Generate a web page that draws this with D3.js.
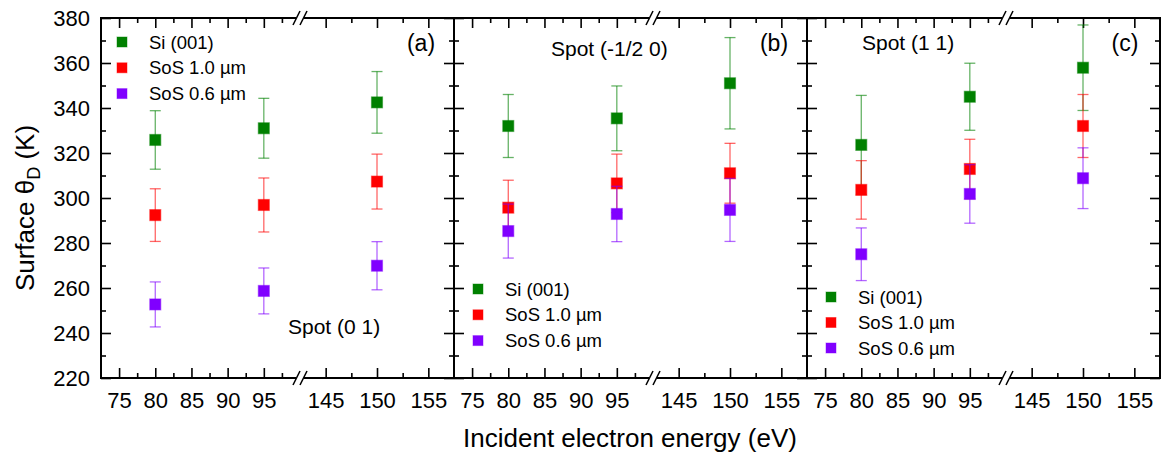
<!doctype html>
<html>
<head>
  <meta charset="utf-8">
  <title>Surface Debye temperature vs incident energy</title>
  <script src="https://d3js.org/d3.v7.min.js"></script>
  <style>
  body { margin: 0; background: #fff; }
  svg { display: block; font-family: "Liberation Sans", Arial, sans-serif; }
  .axis path, .axis line { stroke: #000; }
  .axis text { font-size: 22px; fill: #000; }
  </style>
</head>
<body>
<div id="vis"></div>
<script>
  var width = 1161;
  var height = 454;

  // data
  var energies = [80, 95, 150];
  var seriesNames = ['Si (001)', 'SoS 1.0 \u00b5m', 'SoS 0.6 \u00b5m'];
  var seriesColors = ['#008000', '#ff0000', '#8000ff'];
  var yTicks = [220, 240, 260, 280, 300, 320, 340, 360, 380];
  var yMinor = [230, 250, 270, 290, 310, 330, 350, 370];
  var xTicksLow = [75, 80, 85, 90, 95];
  var xTicksHigh = [145, 150, 155];
  var xMinorLow = [77.5, 82.5, 87.5, 92.5, 97.5];
  var xMinorHigh = [147.5, 152.5];

  // rows: Si, SoS 1.0, SoS 0.6 ; columns: 80, 95, 150 eV
  var valuesA = [[325.8, 331.0, 342.5], [292.4, 296.9, 307.3], [252.7, 258.7, 269.9]];
  var errorsA = [[13.0, 13.3, 13.7], [11.7, 12.0, 12.2], [10.0, 10.2, 10.7]];
  var valuesB = [[332.0, 335.4, 351.0], [295.7, 306.5, 311.0], [285.3, 292.9, 294.7]];
  var errorsB = [[14.0, 14.4, 20.3], [12.2, 13.0, 13.3], [12.0, 12.3, 14.0]];
  var valuesC = [[323.6, 345.0, 357.9], [303.6, 312.9, 332.0], [275.0, 301.8, 308.8]];
  var errorsC = [[22.0, 14.9, 19.0], [13.0, 13.2, 14.0], [11.7, 13.0, 13.5]];

  var panels = [
    { left: 101, values: valuesA, errors: errorsA, tag: '(a)', tagX: 421, tagY: 43,
      spot: 'Spot (0 1)', spotX: 288, spotY: 327, legX: 122, legY: 42, legStep: 25.8 },
    { left: 454, values: valuesB, errors: errorsB, tag: '(b)', tagX: 774, tagY: 43,
      spot: 'Spot (-1/2 0)', spotX: 551, spotY: 49, legX: 478, legY: 289, legStep: 25.8 },
    { left: 807, values: valuesC, errors: errorsC, tag: '(c)', tagX: 1125, tagY: 43,
      spot: 'Spot (1 1)', spotX: 862, spotY: 43, legX: 831, legY: 297, legStep: 25.5 }
  ];

  var panelW = 353;
  var breakW = 199;
  var plotTop = 18, plotBottom = 378;
  var ms = 11; // marker size

  var svg = d3.select('#vis').append('svg')
    .attr('width', width)
    .attr('height', height);

  var y = d3.scaleLinear().domain([220, 380]).range([plotBottom, plotTop]);

  panels.forEach(function(p, pi){
    var L = p.left, R = p.left + panelW, B = p.left + breakW;
    var xLow = d3.scaleLinear().domain([72.5, 100]).range([L, B]);
    var xHigh = d3.scaleLinear().domain([142.5, 157.5]).range([B, R]);
    var x = function(v){ return v <= 100 ? xLow(v) : xHigh(v); };

    var g = svg.append('g');

    // x axes, bottom (labelled) and top
    [[plotBottom, true], [plotTop, false]].forEach(function(side){
      var yy = side[0], lab = side[1];
      var mk = lab ? d3.axisBottom : d3.axisTop;
      [[xLow, xTicksLow, xMinorLow], [xHigh, xTicksHigh, xMinorHigh]].forEach(function(s){
        var ax = g.append('g').attr('class', 'axis').attr('transform', 'translate(0,' + yy + ')')
          .call(mk(s[0]).tickValues(s[1]).tickSize(-10).tickPadding(14)
            .tickFormat(lab ? d3.format('d') : ''));
        ax.select('.domain').remove();
        ax.selectAll('line').attr('stroke-width', 1.6);
        var mn = g.append('g').attr('class', 'axis').attr('transform', 'translate(0,' + yy + ')')
          .call(mk(s[0]).tickValues(s[2]).tickSize(-5).tickFormat(''));
        mn.select('.domain').remove();
        mn.selectAll('line').attr('stroke-width', 1.6);
      });
      // axis line with a gap and the break mark
      g.append('line').attr('x1', L).attr('x2', B - 4).attr('y1', yy).attr('y2', yy)
        .attr('stroke', '#000').attr('stroke-width', 2);
      g.append('line').attr('x1', B + 4).attr('x2', R).attr('y1', yy).attr('y2', yy)
        .attr('stroke', '#000').attr('stroke-width', 2);
      [-3.5, 3.5].forEach(function(dx){
        g.append('line')
          .attr('x1', B + dx - 3.5).attr('y1', yy + 7)
          .attr('x2', B + dx + 3.5).attr('y2', yy - 7)
          .attr('stroke', '#000').attr('stroke-width', 1.6);
      });
    });

    // y axes, left and right, ticks inward
    [[L, d3.axisLeft, pi === 0], [R, d3.axisRight, false]].forEach(function(side){
      var ax = g.append('g').attr('class', 'axis').attr('transform', 'translate(' + side[0] + ',0)')
        .call(side[1](y).tickValues(yTicks).tickSize(-10).tickPadding(11)
          .tickFormat(side[2] ? d3.format('d') : ''));
      ax.select('.domain').remove();
      ax.selectAll('line').attr('stroke-width', 1.6);
      var mn = g.append('g').attr('class', 'axis').attr('transform', 'translate(' + side[0] + ',0)')
        .call(side[1](y).tickValues(yMinor).tickSize(-5).tickFormat(''));
      mn.select('.domain').remove();
      mn.selectAll('line').attr('stroke-width', 1.6);
      g.append('line').attr('x1', side[0]).attr('x2', side[0]).attr('y1', plotTop - 1).attr('y2', plotBottom + 1)
        .attr('stroke', '#000').attr('stroke-width', 2);
    });

    // series: error bars then markers
    p.values.forEach(function(row, si){
      var col = seriesColors[si];
      var pts = row.map(function(v, i){ return { e: energies[i], v: v, err: p.errors[si][i] }; });
      var sg = g.append('g');
      sg.selectAll('line.eb').data(pts).enter().append('line').attr('class', 'eb')
        .attr('x1', function(d){ return x(d.e); }).attr('x2', function(d){ return x(d.e); })
        .attr('y1', function(d){ return y(d.v + d.err); }).attr('y2', function(d){ return y(d.v - d.err); })
        .attr('stroke', col).attr('stroke-opacity', 0.6).attr('stroke-width', 1.3);
      [1, -1].forEach(function(sgn){
        sg.selectAll('line.cap' + sgn).data(pts).enter().append('line')
          .attr('x1', function(d){ return x(d.e) - 5.5; }).attr('x2', function(d){ return x(d.e) + 5.5; })
          .attr('y1', function(d){ return y(d.v + sgn * d.err); }).attr('y2', function(d){ return y(d.v + sgn * d.err); })
          .attr('stroke', col).attr('stroke-opacity', 0.6).attr('stroke-width', 1.3);
      });
      sg.selectAll('rect').data(pts).enter().append('rect')
        .attr('x', function(d){ return x(d.e) - ms / 2; }).attr('y', function(d){ return y(d.v) - ms / 2; })
        .attr('width', ms).attr('height', ms)
        .attr('fill', col).attr('stroke', col).attr('stroke-opacity', 0.45).attr('stroke-width', 1.2);
    });

    // legend
    seriesNames.forEach(function(name, si){
      var ly = p.legY + si * p.legStep;
      g.append('rect').attr('x', p.legX - 5).attr('y', ly - 5).attr('width', 10).attr('height', 10)
        .attr('fill', seriesColors[si]).attr('stroke', seriesColors[si]).attr('stroke-opacity', 0.45);
      g.append('text').attr('x', p.legX + 27).attr('y', ly + 6.5)
        .attr('font-size', 18.5).text(name);
    });

    g.append('text').attr('x', p.tagX).attr('y', p.tagY + 8).attr('text-anchor', 'middle')
      .attr('font-size', 23).text(p.tag);
    g.append('text').attr('x', p.spotX).attr('y', p.spotY + 7)
      .attr('font-size', 21).text(p.spot);
  });

  // axis titles
  svg.append('text')
    .attr('x', 630).attr('y', 447).attr('text-anchor', 'middle')
    .attr('font-size', 26).text('Incident electron energy (eV)');

  var yt = svg.append('text')
    .attr('transform', 'translate(34,208) rotate(-90)')
    .attr('text-anchor', 'middle').attr('font-size', 26);
  yt.append('tspan').text('Surface \u03b8');
  yt.append('tspan').attr('font-size', 18).attr('dy', 6).text('D');
  yt.append('tspan').attr('dy', -6).text(' (K)');
</script>
</body>
</html>
